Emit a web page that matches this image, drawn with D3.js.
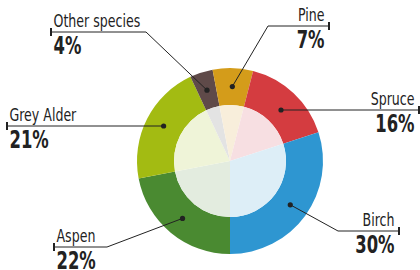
<!DOCTYPE html>
<html>
<head>
<meta charset="utf-8">
<script src="https://d3js.org/d3.v7.min.js"></script>
<style>
	html, body { margin: 0; padding: 0; background: #fff; }
	text { font-family: 'DejaVu Sans Condensed', 'DejaVu Sans', sans-serif; fill: #222; }
</style>
</head>
<body>
<script>
	// data, clockwise from the bottom
	var species = ["Aspen", "Grey Alder", "Other species", "Pine", "Spruce", "Birch"];
	var shares = [22, 21, 4, 7, 16, 30];
	var ringColors = ["#4a8a31", "#a3bb12", "#5f4a49", "#d49c1a", "#d43c40", "#2e96d1"];
	var innerColors = ["#e3ecdf", "#eff4d8", "#e3e3e3", "#f8eedb", "#f7dfe2", "#ddeef7"];

	// label anchors: elbow x, line y, end of line x, text side
	var labelPos = [
		{ elbow: 107, y: 247, end: 54, side: "left" },
		{ elbow: null, y: 126, end: 7, side: "left" },
		{ elbow: 146, y: 32, end: 51, side: "left" },
		{ elbow: 268, y: 26, end: 329, side: "right" },
		{ elbow: null, y: 110, end: 419, side: "right" },
		{ elbow: 338, y: 231, end: 399, side: "right" }
	];

	var width = 420, height = 270;
	var cx = 230, cy = 161, rIn = 56, rOut = 93;

	var svg = d3.select("body").append("svg")
		.attr("width", width)
		.attr("height", height);

	var pie = d3.pie().sort(null).startAngle(Math.PI).endAngle(3 * Math.PI);
	var arcs = pie(shares);

	var ring = d3.arc().innerRadius(rIn).outerRadius(rOut);
	var inner = d3.arc().innerRadius(0).outerRadius(rIn);

	var g = svg.append("g").attr("transform", "translate(" + cx + "," + cy + ")");

	g.selectAll("path.ring")
		.data(arcs)
		.enter()
	  .append("path")
		.attr("class", "ring")
		.attr("d", ring)
		.attr("fill", function(d, i) { return ringColors[i]; });

	g.selectAll("path.inner")
		.data(arcs)
		.enter()
	  .append("path")
		.attr("class", "inner")
		.attr("d", inner)
		.attr("fill", function(d, i) { return innerColors[i]; });

	var labels = svg.selectAll("g.label")
		.data(arcs)
		.enter()
	  .append("g")
		.attr("class", "label");

	function dotPos(d, i) {
		var c = ring.centroid(d);
		var p = labelPos[i];
		return [cx + c[0], p.elbow === null ? p.y : cy + c[1]];
	}

	labels.append("path")
		.attr("fill", "none")
		.attr("stroke", "#222")
		.attr("stroke-width", 1)
		.attr("d", function(d, i) {
			var p = labelPos[i];
			var pts = [dotPos(d, i)];
			if (p.elbow !== null) pts.push([p.elbow, p.y]);
			pts.push([p.end, p.y]);
			return d3.line()(pts);
		});

	labels.append("circle")
		.attr("cx", function(d, i) { return dotPos(d, i)[0]; })
		.attr("cy", function(d, i) { return dotPos(d, i)[1]; })
		.attr("r", 2.6)
		.attr("fill", "#222");

	labels.append("line")
		.attr("x1", function(d, i) { return labelPos[i].end; })
		.attr("x2", function(d, i) { return labelPos[i].end; })
		.attr("y1", function(d, i) { return labelPos[i].y - 4; })
		.attr("y2", function(d, i) { return labelPos[i].y + 4; })
		.attr("stroke", "#222")
		.attr("stroke-width", 2);

	function textX(i) {
		var p = labelPos[i];
		return p.side === "left" ? p.end + 2.5 : p.end - 4.5;
	}

	labels.append("text")
		.attr("transform", function(d, i) { return "translate(" + textX(i) + "," + (labelPos[i].y - 5) + ") scale(0.8,1)"; })
		.attr("text-anchor", function(d, i) { return labelPos[i].side === "left" ? "start" : "end"; })
		.attr("font-size", "17.5px")
		.text(function(d, i) { return species[i]; });

	labels.append("text")
		.attr("transform", function(d, i) { return "translate(" + textX(i) + "," + (labelPos[i].y + 22) + ") scale(0.76,1)"; })
		.attr("text-anchor", function(d, i) { return labelPos[i].side === "left" ? "start" : "end"; })
		.attr("font-size", "24px")
		.attr("font-weight", "bold")
		.text(function(d) { return d.data + "%"; });
</script>
</body>
</html>
